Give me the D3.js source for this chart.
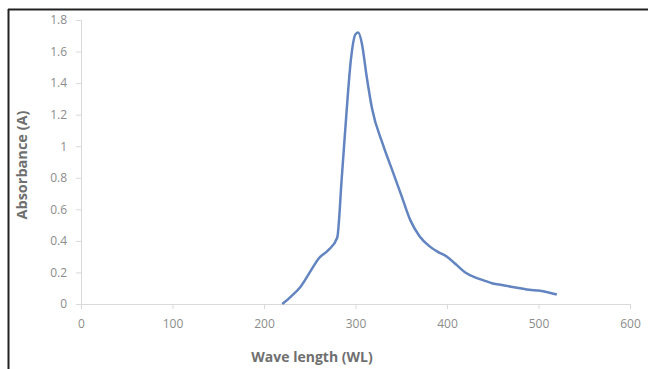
<!DOCTYPE html>
<html>
<head>
<meta charset="utf-8">
<script src="https://cdn.jsdelivr.net/npm/d3@7"></script>
<style>
  body { margin: 0; background: #fff; }
  svg { display: block; }
</style>
</head>
<body>
<svg id="chart" width="648" height="369"></svg>
<script>
// wavelength (nm) and absorbance
var wavelength = [220, 230, 240, 250, 260, 270, 280, 285, 290, 295, 300, 303, 307, 312, 318, 330, 340, 350, 360, 370, 380, 390, 400, 410, 420, 430, 440, 450, 460, 470, 480, 490, 500, 510, 520]
var absorbance = [0, 0.05, 0.11, 0.2, 0.29, 0.34, 0.42, 0.8, 1.2, 1.55, 1.71, 1.72, 1.65, 1.45, 1.24, 1.01, 0.85, 0.69, 0.53, 0.43, 0.37, 0.33, 0.3, 0.25, 0.2, 0.17, 0.15, 0.13, 0.12, 0.11, 0.1, 0.09, 0.085, 0.075, 0.06]
var xTicks = [0, 100, 200, 300, 400, 500, 600]
var yTicks = [0, 0.2, 0.4, 0.6, 0.8, 1, 1.2, 1.4, 1.6, 1.8]

var svg = d3.select('#chart')
var font = "'Open Sans', sans-serif"
var grey = '#8c8c8c'

var x = d3.scaleLinear().domain([0, 600]).range([81, 630])
var y = d3.scaleLinear().domain([0, 1.8]).range([304, 20])

// frame (only top and left edges show)
svg.append('line').attr('x1', 8).attr('x2', 648).attr('y1', 9.5).attr('y2', 9.5)
  .attr('stroke', '#222').attr('stroke-width', 2)
svg.append('line').attr('x1', 8.5).attr('x2', 8.5).attr('y1', 9).attr('y2', 369)
  .attr('stroke', '#222').attr('stroke-width', 2)

var xAxis = svg.append('g')
  .attr('transform', 'translate(0,304)')
  .call(d3.axisBottom(x).tickValues(xTicks).tickSize(5).tickPadding(10).tickFormat(d3.format('d')))
var yAxis = svg.append('g')
  .attr('transform', 'translate(81,0)')
  .call(d3.axisLeft(y).tickValues(yTicks).tickSize(5).tickPadding(9).tickFormat(d => String(d)))

;[xAxis, yAxis].forEach(g => {
  g.select('.domain').attr('stroke', '#d9d9d9')
  g.selectAll('.tick line').attr('stroke', '#d9d9d9')
  g.selectAll('.tick text').attr('fill', grey).style('font-family', font).style('font-size', '12px')
})

var line = d3.line()
  .x((d, i) => x(wavelength[i]))
  .y(d => y(d))
  .curve(d3.curveMonotoneX)

svg.append('path')
  .attr('d', line(absorbance))
  .attr('fill', 'none')
  .attr('stroke', '#6284c0')
  .attr('stroke-width', 2.5)
  .attr('stroke-linejoin', 'round')

svg.append('text')
  .attr('x', 312).attr('y', 362)
  .attr('text-anchor', 'middle')
  .style('font-family', font).style('font-size', '14px').style('font-weight', 'bold')
  .attr('fill', '#6f6f6f')
  .text('Wave length (WL)')

svg.append('text')
  .attr('transform', 'translate(27,165) rotate(-90)')
  .attr('text-anchor', 'middle')
  .style('font-family', font).style('font-size', '14.5px').style('font-weight', 'bold')
  .attr('fill', '#6f6f6f')
  .text('Absorbance (A)')
</script>
</body>
</html>
